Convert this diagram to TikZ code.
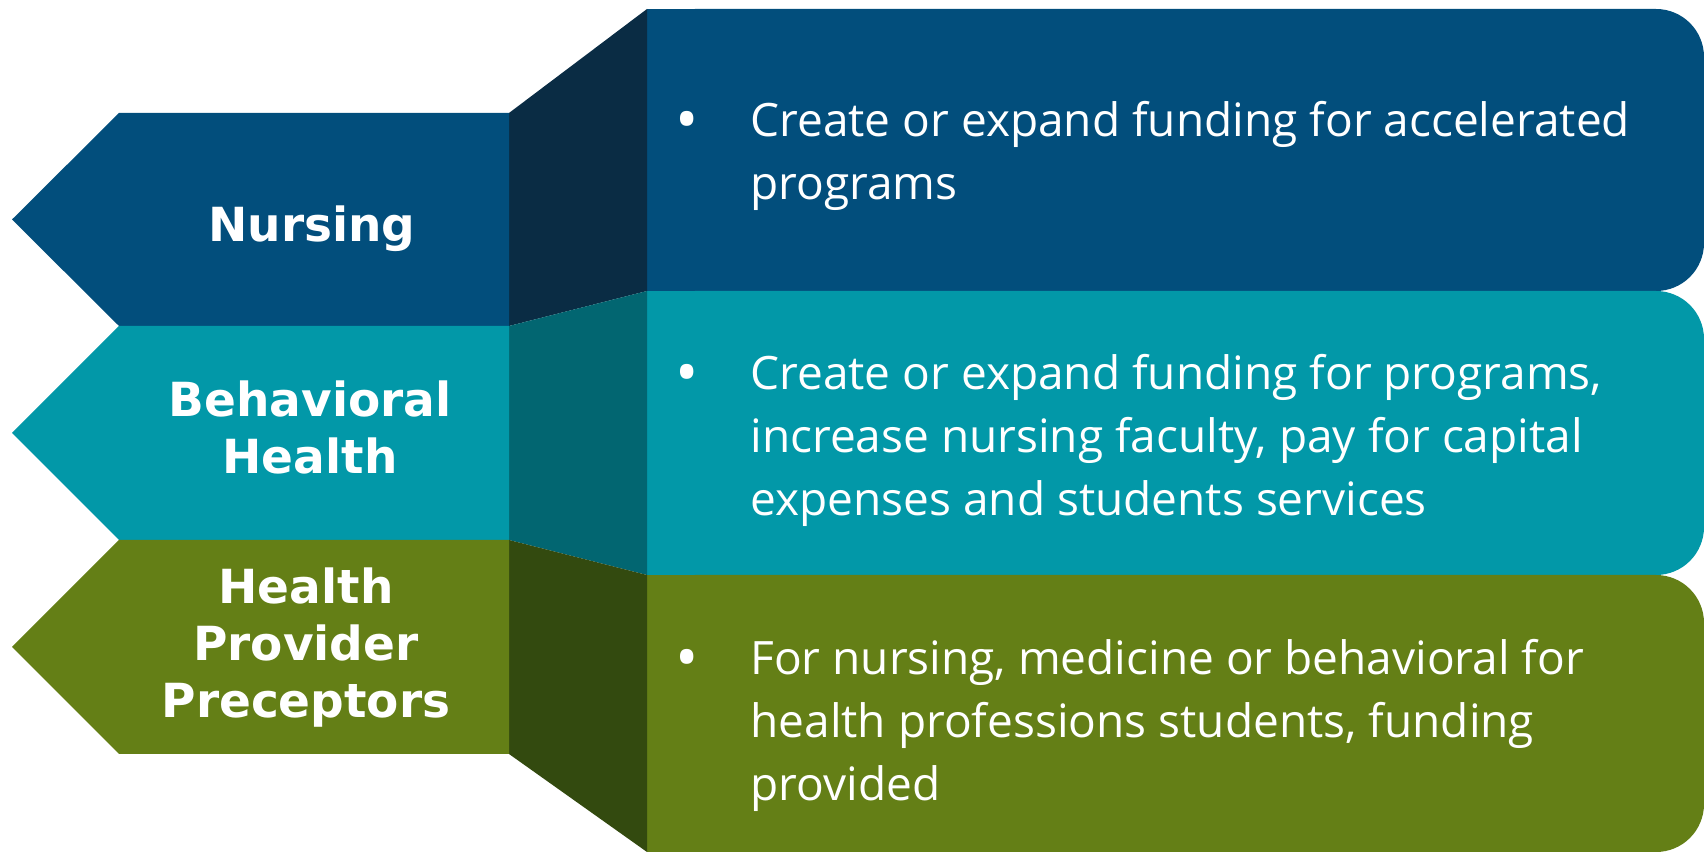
\documentclass[tikz,border=0pt]{standalone}
\usepackage{fontspec}
\newfontfamily\labelfont{DejaVu Sans}
\newfontfamily\bodyfont{Open Sans}
\definecolor{nurse}{HTML}{024E7C}
\definecolor{nursedark}{HTML}{0A2C44}
\definecolor{teal}{HTML}{0298A8}
\definecolor{tealdark}{HTML}{026671}
\definecolor{grn}{HTML}{647F16}
\definecolor{grndark}{HTML}{334A0F}
\tikzset{
  lbl/.style={text=white, align=center, inner sep=0pt, font=\labelfont\bfseries\fontsize{23.5}{28.5}\selectfont},
  body/.style={text=white, align=left, inner sep=0pt, anchor=west, font=\bodyfont\fontsize{23}{31.5}\selectfont},
  bul/.style={text=white, inner sep=0pt, anchor=base, font=\bodyfont\fontsize{31}{31.5}\selectfont},
}
\begin{document}
\begin{tikzpicture}[x=0.5pt,y=-0.5pt]
\useasboundingbox (0,0) rectangle (1704,854);
% right boxes
\fill[nurse, rounded corners=24pt] (647,9) rectangle (1704,291);
\fill[nurse] (647,9) rectangle (1200,291);
\fill[teal, rounded corners=24pt] (647,291) rectangle (1704,575);
\fill[teal] (647,291) rectangle (1200,575);
\fill[grn, rounded corners=24pt] (647,575) rectangle (1704,852);
\fill[grn] (647,575) rectangle (1200,852);
% side panels
\fill[nursedark] (509,113) -- (647,9) -- (647,291) -- (509,326) -- cycle;
\fill[tealdark] (509,326) -- (647,291) -- (647,575) -- (509,540) -- cycle;
\fill[grndark] (509,540) -- (647,575) -- (647,852) -- (509,754) -- cycle;
% arrows
\fill[nurse] (119,113) -- (509,113) -- (509,326) -- (119,326) -- (12,219.5) -- cycle;
\fill[teal] (119,326) -- (509,326) -- (509,540) -- (119,540) -- (12,433) -- cycle;
\fill[grn] (119,540) -- (509,540) -- (509,754) -- (119,754) -- (12,647) -- cycle;
% labels
\node[lbl, anchor=base] (l1) at (312,242) {Nursing};
\node[lbl] (l2) at (310,427) {Behavioral\\Health};
\node[lbl] (l3) at (306,647.5) {Health\\Provider\\Preceptors};
% bullets
\node[bul] (b1) at (687,142) {•};
\node[body] (t1) at (750,155.5) {Create or expand funding for accelerated\\programs};
\node[bul] (b2) at (687,395) {•};
\node[body] (t2) at (750,440) {Create or expand funding for programs,\\increase nursing faculty, pay for capital\\expenses and students services};
\node[bul] (b3) at (687,680) {•};
\node[body] (t3) at (750,725) {For nursing, medicine or behavioral for\\health professions students, funding\\provided};
\end{tikzpicture}
\end{document}
